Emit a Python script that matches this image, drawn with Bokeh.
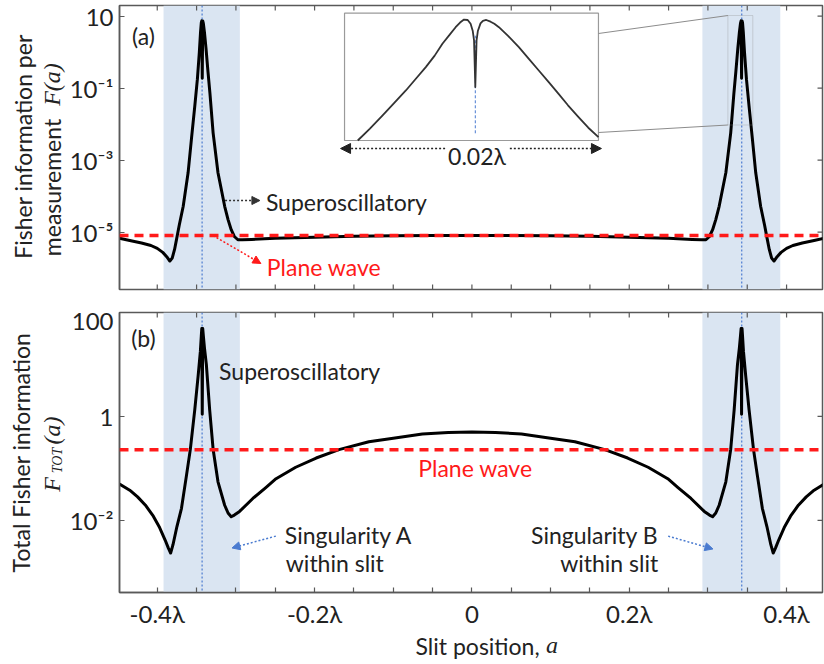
from math import pi, log10

from bokeh.plotting import figure
from bokeh.layouts import column, row
from bokeh.models import (Range1d, FixedTicker, Span, BoxAnnotation, Label, Arrow, NormalHead)
from bokeh.embed import file_html
from bokeh.resources import INLINE

# ---------------- data ----------------
slit_bands = [(-0.392, -0.295), (0.293, 0.392)]
singularities = [-0.343, 0.343]

# (a) Fisher information per measurement F(a)
a_top = [-0.448, -0.435, -0.420, -0.408, -0.400, -0.393, -0.388, -0.384, -0.381, -0.378,
         -0.3755, -0.372, -0.367, -0.3608, -0.3566, -0.3523, -0.3490, -0.3465, -0.3450, -0.3440,
         -0.3434, -0.3428, -0.3422, -0.3414, -0.3400, -0.3380, -0.3355, -0.3330, -0.3290, -0.3228,
         -0.3143, -0.3100, -0.3060, -0.3020, -0.2975, -0.2920, -0.280, -0.250, -0.200, -0.150,
         -0.100, -0.050, 0.0,
         0.050, 0.100, 0.150, 0.200, 0.250, 0.280, 0.2920, 0.2975, 0.3020, 0.3060,
         0.3100, 0.3143, 0.3228, 0.3290, 0.3330, 0.3355, 0.3380, 0.3400, 0.3414, 0.3422,
         0.3428, 0.3434, 0.3440, 0.3450, 0.3465, 0.3490, 0.3523, 0.3566, 0.3608, 0.367,
         0.372, 0.3755, 0.378, 0.381, 0.384, 0.388, 0.393, 0.400, 0.408, 0.420, 0.435, 0.448]
F_top = [6.76e-6, 5.89e-6, 5.01e-6, 4.27e-6, 3.55e-6, 2.75e-6, 2.09e-6, 1.58e-6, 1.91e-6, 3.31e-6,
         6.31e-6, 1.58e-5, 5.25e-5, 4.47e-4, 3.80e-3, 3.16e-2, 0.178, 1.0, 3.55, 6.61,
         7.41, 0.19, 7.41, 6.31, 3.55, 1.26, 0.282, 7.08e-2, 5.75e-3, 4.47e-4,
         5.25e-5, 2.24e-5, 1.17e-5, 7.59e-6, 6.17e-6, 6.17e-6, 6.31e-6, 6.76e-6, 7.24e-6, 7.76e-6,
         7.94e-6, 8.1e-6, 8.1e-6,
         8.1e-6, 7.94e-6, 7.76e-6, 7.24e-6, 6.76e-6, 6.31e-6, 6.17e-6, 6.17e-6, 7.59e-6, 1.17e-5,
         2.24e-5, 5.25e-5, 4.47e-4, 5.75e-3, 7.08e-2, 0.282, 1.26, 3.55, 6.31, 7.41,
         0.19, 7.41, 6.61, 3.55, 1.0, 0.178, 3.16e-2, 3.80e-3, 4.47e-4, 5.25e-5,
         1.58e-5, 6.31e-6, 3.31e-6, 1.91e-6, 1.58e-6, 2.09e-6, 2.75e-6, 3.55e-6, 4.27e-6, 5.01e-6,
         5.89e-6, 6.76e-6]
plane_wave_top = 8.1e-6

# (b) Total Fisher information F_TOT(a)
a_tot = [-0.448, -0.435, -0.425, -0.415, -0.405, -0.397, -0.390, -0.386, -0.383, -0.380,
         -0.375, -0.3692, -0.3629, -0.358, -0.3523, -0.3481, -0.3452, -0.3440, -0.3434, -0.3428,
         -0.3422, -0.3414, -0.3400, -0.3376, -0.3334, -0.3290, -0.3228, -0.3143, -0.3100, -0.3060,
         -0.3020, -0.2954, -0.2785, -0.262, -0.249, -0.224, -0.198, -0.169, -0.131, -0.100,
         -0.063, -0.030, 0.0,
         0.030, 0.063, 0.100, 0.131, 0.169, 0.198, 0.224, 0.249, 0.262, 0.2785,
         0.2954, 0.3020, 0.3060, 0.3100, 0.3143, 0.3228, 0.3290, 0.3334, 0.3376, 0.3400,
         0.3414, 0.3422, 0.3428, 0.3434, 0.3440, 0.3452, 0.3481, 0.3523, 0.358, 0.3629,
         0.3692, 0.375, 0.380, 0.383, 0.386, 0.390, 0.397, 0.405, 0.415, 0.425, 0.435, 0.448]
F_tot = [0.0501, 0.0380, 0.0282, 0.0195, 0.0120, 0.00724, 0.00417, 0.00295, 0.00234, 0.00339,
         0.00759, 0.0170, 0.0724, 0.229, 1.35, 5.89, 17.8, 35.5, 49.0, 1.10,
         49.0, 35.5, 20.9, 10.0, 1.35, 0.234, 0.0550, 0.0195, 0.0138, 0.0117,
         0.0126, 0.0148, 0.0263, 0.0427, 0.0631, 0.105, 0.158, 0.229, 0.324, 0.380,
         0.457, 0.490, 0.501,
         0.490, 0.457, 0.380, 0.324, 0.229, 0.158, 0.105, 0.0631, 0.0427, 0.0263,
         0.0148, 0.0126, 0.0117, 0.0138, 0.0195, 0.0550, 0.234, 1.35, 10.0, 20.9,
         35.5, 49.0, 1.10, 49.0, 35.5, 17.8, 5.89, 1.35, 0.229, 0.0724,
         0.0170, 0.00759, 0.00339, 0.00234, 0.00295, 0.00417, 0.00724, 0.0120, 0.0195, 0.0282,
         0.0380, 0.0501]
plane_wave_tot = 0.228

# inset: F(a) around singularity B, offset from the singularity (in units of lambda)
inset_da = [-0.00926, -0.0083, -0.0073, -0.0064, -0.00547, -0.0047, -0.0039, -0.0032, -0.00259,
            -0.0020, -0.00155, -0.0012, -0.00089, -0.0006, -0.00037, -0.0002, -0.0001, 0.0,
            0.0001, 0.0002, 0.00041, 0.0006, 0.00086, 0.0012, 0.0015, 0.00186, 0.0026, 0.00343,
            0.0042, 0.005, 0.0058, 0.00656, 0.0073, 0.00813, 0.0089, 0.0097]
inset_F = [0.0100, 0.0191, 0.0389, 0.0759, 0.151, 0.282, 0.537, 1.00, 1.91,
           3.16, 4.68, 6.03, 7.08, 6.92, 5.62, 3.80, 2.29, 0.182,
           2.29, 3.80, 5.75, 6.61, 6.92, 6.31, 5.62, 4.68, 2.88, 1.58,
           0.851, 0.447, 0.234, 0.126, 0.0676, 0.0355, 0.0200, 0.0120]
inset_xlim = (-0.0103, 0.0097)
inset_ylim = (1e-2, 10.0)

x_ticks = [-0.4, -0.2, 0.0, 0.2, 0.4]
x_tick_labels = ["-0.4λ", "-0.2λ", "0", "0.2λ", "0.4λ"]
x_minor_ticks = [-0.35, -0.3, -0.25, -0.15, -0.1, -0.05, 0.05, 0.1, 0.15, 0.25, 0.3, 0.35]
y_top_ticks = [1e-5, 1e-3, 1e-1, 10.0]
y_top_labels = ["10⁻⁵", "10⁻³", "10⁻¹", "10"]
y_tot_ticks = [1e-2, 1.0, 100.0]
y_tot_labels = ["10⁻²", "1", "100"]

# ---------------- layout / style ----------------
FONT = "Lato"
SERIF = "Liberation Serif"
TXT = "#222222"
FRAME_C = "#595959"
BAND_C = "#dae5f2"
BLUE = "#4a7bd0"
RED = "#ff1a1a"
TICK = 5
TXT_SIZE = "23px"
TICK_SIZE = "24px"
MATH_SIZE = "24px"

PAGE_W, PAGE_H = 824, 664
STRIP_W = 66                    # left strip holding the y-axis titles
W = PAGE_W - STRIP_W
L_BORDER, R_BORDER = 50, 2
FRAME_W = W - L_BORDER - R_BORDER
FRAME_LEFT_PX = STRIP_W + L_BORDER
X0 = -0.448
X_PER_PX = 1 / 790.0
X1 = X0 + FRAME_W * X_PER_PX
H1, H2 = 305, 325
XSTRIP_H = PAGE_H - H1 - H2
TOP_FRAME = (5, 289)            # page y of top frame (top, bottom)
BOT_FRAME = (312, 595)
TOP_LOG = (-6.592, 1.297)
BOT_LOG = (-3.39, 2.0)


def ax(px):
    return X0 + (px - FRAME_LEFT_PX) * X_PER_PX


def fy_top(py):
    return 10 ** (TOP_LOG[1] - (py - TOP_FRAME[0]) * (TOP_LOG[1] - TOP_LOG[0]) / (TOP_FRAME[1] - TOP_FRAME[0]))


def fy_bot(py):
    return 10 ** (BOT_LOG[1] - (py - BOT_FRAME[0]) * (BOT_LOG[1] - BOT_LOG[0]) / (BOT_FRAME[1] - BOT_FRAME[0]))


def style_axis(axis, ticker, labels, standoff):
    axis.ticker = ticker
    axis.major_tick_in = TICK
    axis.major_tick_out = 0
    axis.minor_tick_in = TICK
    axis.minor_tick_out = 0
    axis.axis_line_color = FRAME_C
    axis.axis_line_width = 1.5
    axis.major_tick_line_color = FRAME_C
    axis.minor_tick_line_color = FRAME_C
    axis.major_tick_line_width = 1.2
    axis.minor_tick_line_width = 1.2
    axis.major_label_overrides = labels
    axis.major_label_text_font = FONT
    axis.major_label_text_font_size = TICK_SIZE
    axis.major_label_text_color = TXT
    axis.major_label_standoff = standoff


def make_panel(height, frame_px, log_range, yticks, ylabels, show_x):
    top_border = frame_px[0] - (0 if frame_px is TOP_FRAME else H1)
    bottom_border = height - top_border - (frame_px[1] - frame_px[0])
    p = figure(width=W, height=height, title=None, toolbar_location=None, output_backend="svg",
               x_range=Range1d(X0, X1), y_range=Range1d(10 ** log_range[0], 10 ** log_range[1]),
               y_axis_type="log", x_axis_location="below" if show_x else None,
               min_border_left=L_BORDER, min_border_right=R_BORDER,
               min_border_top=top_border, min_border_bottom=bottom_border)
    p.grid.visible = False
    p.outline_line_color = FRAME_C
    p.outline_line_width = 1.5
    p.background_fill_color = "white"
    p.border_fill_color = "white"
    if show_x:
        style_axis(p.xaxis[0], FixedTicker(ticks=x_ticks, minor_ticks=x_minor_ticks),
                   dict(zip(x_ticks, x_tick_labels)), 6)
    style_axis(p.yaxis[0], FixedTicker(ticks=yticks, minor_ticks=[]), dict(zip(yticks, ylabels)), 6)

    for (lo, hi) in slit_bands:
        p.add_layout(BoxAnnotation(left=lo, right=hi, fill_color=BAND_C, fill_alpha=1.0,
                                   line_alpha=0, level="underlay"))
    for s in singularities:
        p.add_layout(Span(location=s, dimension="height", line_color=BLUE, line_dash="2 2",
                          line_width=1.2, level="underlay"))

    # mirrored inward ticks on the top (and bottom if no axis) and right frame edges
    px_per_dec = (frame_px[1] - frame_px[0]) / (log_range[1] - log_range[0])
    xs = sorted(x_ticks + x_minor_ticks)
    y_top_edge = 10 ** log_range[1]
    y_top_in = 10 ** (log_range[1] - TICK / px_per_dec)
    p.segment(x0=xs, y0=[y_top_edge] * len(xs), x1=xs, y1=[y_top_in] * len(xs),
              line_color=FRAME_C, line_width=1.2)
    if not show_x:
        y_bot_edge = 10 ** log_range[0]
        y_bot_in = 10 ** (log_range[0] + TICK / px_per_dec)
        p.segment(x0=xs, y0=[y_bot_edge] * len(xs), x1=xs, y1=[y_bot_in] * len(xs),
                  line_color=FRAME_C, line_width=1.2)
    p.segment(x0=[X1] * len(yticks), y0=yticks, x1=[X1 - TICK * X_PER_PX] * len(yticks), y1=yticks,
              line_color=FRAME_C, line_width=1.2)
    return p


def make_strip(width, height, x_start, y_top):
    # blank figure whose data units are page pixels; holds the axis titles
    s = figure(width=width, height=height, title=None, toolbar_location=None, output_backend="svg",
               x_range=Range1d(x_start, x_start + width), y_range=Range1d(y_top + height, y_top),
               x_axis_location=None, y_axis_location=None,
               min_border_left=0, min_border_right=0, min_border_top=0, min_border_bottom=0)
    s.grid.visible = False
    s.outline_line_color = None
    s.background_fill_color = "white"
    s.border_fill_color = "white"
    return s


def label(p, x, y, text, size=TXT_SIZE, color=TXT, align="left", baseline="middle", angle=0.0,
          font=FONT, style="normal"):
    p.add_layout(Label(x=x, y=y, text=text, text_font=font, text_font_size=size, text_color=color,
                       text_align=align, text_baseline=baseline, angle=angle, text_font_style=style))


def arrow(p, x0, y0, x1, y1, color, size=8):
    p.add_layout(Arrow(end=NormalHead(size=size, fill_color=color, line_color=color),
                       x_start=x0, y_start=y0, x_end=x1, y_end=y1,
                       line_color=color, line_width=1.5, line_dash="2 2"))


# ---------------- panel (a) ----------------
p1 = make_panel(H1, TOP_FRAME, TOP_LOG, y_top_ticks, y_top_labels, show_x=False)
p1.line(a_top, F_top, line_color="black", line_width=3, line_join="round")
p1.add_layout(Span(location=plane_wave_top, dimension="width", line_color=RED, line_width=3.5,
                   line_dash="9 6"))

# inset drawn in its own coordinates
s_x = (597 - 342) / (inset_xlim[1] - inset_xlim[0])
s_y = (140 - 12.7) / (log10(inset_ylim[1]) - log10(inset_ylim[0]))
p1.extra_x_ranges = {"inset": Range1d(inset_xlim[0] - (342 - FRAME_LEFT_PX) / s_x,
                                      inset_xlim[1] + (FRAME_LEFT_PX + FRAME_W - 597) / s_x)}
p1.extra_y_ranges = {"inset": Range1d(10 ** (log10(inset_ylim[0]) - (TOP_FRAME[1] - 140) / s_y),
                                      10 ** (log10(inset_ylim[1]) + (12.7 - TOP_FRAME[0]) / s_y))}
p1.quad(left=[inset_xlim[0]], right=[inset_xlim[1]], bottom=[inset_ylim[0]], top=[inset_ylim[1]],
        fill_color="white", line_color="#9a9a9a", line_width=1.2,
        x_range_name="inset", y_range_name="inset")
p1.segment(x0=[0.0], y0=[10 ** -1.83], x1=[0.0], y1=[10 ** 0.47], line_color=BLUE,
           line_dash="3 2", line_width=1, x_range_name="inset", y_range_name="inset")
p1.line(inset_da, inset_F, line_color="#333333", line_width=1.8, line_join="round",
        x_range_name="inset", y_range_name="inset")

# zoom box and connecting lines
p1.add_layout(BoxAnnotation(left=ax(727), right=ax(752), top=fy_top(15), bottom=fy_top(124.5),
                            fill_alpha=0, line_color="#8c8c8c", line_width=1))
p1.segment(x0=[ax(597), ax(597)], y0=[fy_top(33), fy_top(132)],
           x1=[ax(727), ax(727)], y1=[fy_top(15), fy_top(124.5)],
           line_color="#8c8c8c", line_width=1)

arrow(p1, ax(443), fy_top(148), ax(338), fy_top(148), "#222222", size=10)
arrow(p1, ax(508), fy_top(148), ax(600), fy_top(148), "#222222", size=10)
label(p1, ax(475), fy_top(155), "0.02λ", align="center")

label(p1, ax(140), fy_top(35), "(a)", align="center")
label(p1, ax(263), fy_top(201), "Superoscillatory")
arrow(p1, ax(222), fy_top(200), ax(257), fy_top(200), "#333333")
label(p1, ax(264), fy_top(266.5), "Plane wave", color=RED)
arrow(p1, ax(210), fy_top(235), ax(258), fy_top(263), RED)

# ---------------- panel (b) ----------------
p2 = make_panel(H2, BOT_FRAME, BOT_LOG, y_tot_ticks, y_tot_labels, show_x=True)
p2.line(a_tot, F_tot, line_color="black", line_width=3, line_join="round")
p2.add_layout(Span(location=plane_wave_tot, dimension="width", line_color=RED, line_width=3.5,
                   line_dash="9 6"))

label(p2, ax(140), fy_bot(338), "(b)", align="center")
label(p2, ax(216), fy_bot(371), "Superoscillatory")
label(p2, ax(416), fy_bot(469), "Plane wave", color=RED)
label(p2, ax(282), fy_bot(537), "Singularity A")
label(p2, ax(283), fy_bot(565), "within slit")
arrow(p2, ax(273), fy_bot(538), ax(229), fy_bot(550), BLUE)
label(p2, ax(657), fy_bot(537), "Singularity B", align="right")
label(p2, ax(657), fy_bot(565), "within slit", align="right")
arrow(p2, ax(667), fy_bot(538), ax(712), fy_bot(551), BLUE)

# ---------------- axis titles (strips in page-pixel units) ----------------
left = make_strip(STRIP_W, PAGE_H, 0, 0)
label(left, 22, 146, "Fisher information per", align="center", angle=pi / 2)
label(left, 51, 187, "measurement", align="center", angle=pi / 2)
label(left, 51, 84, "F(a)", align="center", angle=pi / 2, font=SERIF, style="italic", size=MATH_SIZE)
label(left, 20, 452, "Total Fisher information", align="center", angle=pi / 2)
label(left, 51, 484, "F", align="center", angle=pi / 2, font=SERIF, style="italic", size=MATH_SIZE)
label(left, 57, 460, "TOT", align="center", angle=pi / 2, font=SERIF, style="italic", size="14px")
label(left, 51, 430, "(a)", align="center", angle=pi / 2, font=SERIF, style="italic", size=MATH_SIZE)

bottom = make_strip(W, XSTRIP_H, STRIP_W, H1 + H2)
label(bottom, 519, 645, "Slit position,", align="right")
label(bottom, 526, 644, "a", align="left", font=SERIF, style="italic", size=MATH_SIZE)

layout = row(left, column(p1, p2, bottom))
open("out.html", "w").write(file_html(layout, INLINE))
